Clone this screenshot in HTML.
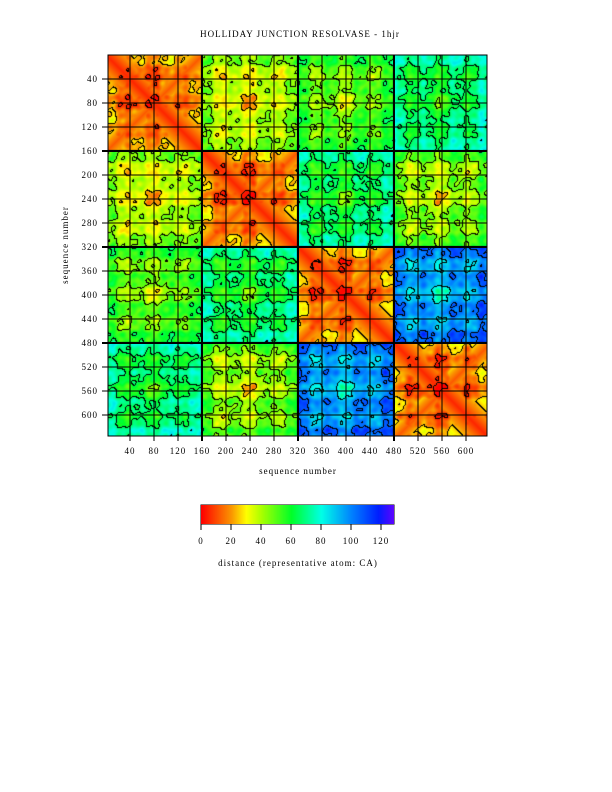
<!DOCTYPE html>
<html><head><meta charset="utf-8"><style>
body{margin:0;background:#fff;width:612px;height:792px;position:relative;overflow:hidden;font-family:"Liberation Serif",serif;}
.t{position:absolute;font-size:9px;color:#000;white-space:nowrap;letter-spacing:1px}
canvas{position:absolute}
</style></head><body>
<div class="t" style="left:0;width:600px;text-align:center;top:29px">HOLLIDAY JUNCTION RESOLVASE - 1hjr</div>
<canvas id="c" width="379" height="381" style="left:108px;top:55px"></canvas>
<svg width="612" height="792" style="position:absolute;left:0;top:0" id="s"></svg>
<div class="t" style="left:0;width:596px;text-align:center;top:466px">sequence number</div>
<div class="t" style="left:20px;top:240px;transform:rotate(-90deg);width:90px;text-align:center">sequence number</div>
<div class="t" style="left:0;width:596px;text-align:center;top:558px">distance (representative atom: CA)</div>
<canvas id="cb" width="193" height="19" style="left:201px;top:505px"></canvas>
<script>
function w(r,k){return Math.sin(r*0.13*k+k)*0.6+Math.sin(r*0.041*k+2*k)*0.4;}
function D(i,j){
 var a=Math.min(3,Math.floor(i/160)),b=Math.min(3,Math.floor(j/160));
 var B=[[18,40,52,68],[40,18,66,46],[52,66,18,98],[68,46,98,18]];
 var p=i-a*160,q=j-b*160;
 var d=B[a][b]+8*(w(i%160,1)+w(j%160,1))+6*w(p,2)*w(q,2)+4*(w(i,3)+w(j,3))+3*Math.sin(i*0.3)*Math.sin(j*0.3);
 if(a==b){d=Math.min(d,Math.abs(i-j)*0.5+5); d=Math.min(d,Math.abs(p+q-160)*0.6+12);}
 else{d-=8*Math.exp(-Math.abs(p+q-160)/10)+6*Math.exp(-Math.abs(p-q)/10);}
 return Math.max(0,d);
}
var stops=[[0,[255,0,0]],[20,[250,150,0]],[30,[255,255,0]],[40,[170,255,0]],[60,[0,255,40]],[80,[0,255,230]],[100,[0,130,255]],[118,[0,30,255]],[130,[110,0,255]]];
function col(v){for(var k=1;k<stops.length;k++){if(v<=stops[k][0]||k==stops.length-1){var a=stops[k-1],b=stops[k],t=Math.min(1,Math.max(0,(v-a[0])/(b[0]-a[0])));return [0,1,2].map(function(n){return Math.round(a[1][n]+(b[1][n]-a[1][n])*t)});}}}
var c=document.getElementById('c'),x=c.getContext('2d'),W=379,H=381,im=x.createImageData(W,H);
var V=[];
for(var y=0;y<H;y++){V[y]=[];for(var xx=0;xx<W;xx++){V[y][xx]=D((xx+2)/0.6,y/0.6);}}
function lv(v){return Math.floor((v-25)/20);}
for(var y=0;y<H;y++)for(var xx=0;xx<W;xx++){var v=V[y][xx],cc=col(v);
 if((xx+1<W&&lv(V[y][xx+1])!=lv(v))||(y+1<H&&lv(V[y+1][xx])!=lv(v)))cc=[0,0,0];
 var o=(y*W+xx)*4;im.data[o]=cc[0];im.data[o+1]=cc[1];im.data[o+2]=cc[2];im.data[o+3]=255;}
x.putImageData(im,0,0);
var cb=document.getElementById('cb').getContext('2d');
for(var i=0;i<193;i++){var cc=col(i/1.5);cb.fillStyle='rgb('+cc+')';cb.fillRect(i,0,1,19);}
var s='';
for(var k=1;k<=15;k++){var px=106+24*k,py=55+24*k,sw=(k%4==0)?2:1;
 if(px<487)s+='<line x1="'+px+'" y1="55" x2="'+px+'" y2="441" stroke="#000" stroke-width="'+sw+'"/>';
 if(py<436)s+='<line x1="102" y1="'+py+'" x2="487" y2="'+py+'" stroke="#000" stroke-width="'+sw+'"/>';
 s+='<text x="'+px+'" y="454" font-size="9" text-anchor="middle" font-family="Liberation Serif" letter-spacing="1">'+(40*k)+'</text>';
 if(py<436)s+='<text x="98" y="'+(py+3)+'" font-size="9" text-anchor="end" font-family="Liberation Serif" letter-spacing="1">'+(40*k)+'</text>';}
s+='<rect x="108" y="55" width="379" height="381" fill="none" stroke="#000" stroke-width="1"/>';
s+='<rect x="201" y="505" width="193" height="19" fill="none" stroke="#000"/>';
for(var k=0;k<=6;k++){var px=201+30*k;s+='<line x1="'+px+'" y1="505" x2="'+px+'" y2="530" stroke="#000"/><text x="'+px+'" y="544" font-size="9" text-anchor="middle" font-family="Liberation Serif" letter-spacing="1">'+(20*k)+'</text>';}
document.getElementById('s').innerHTML=s;
</script>
</body></html>
